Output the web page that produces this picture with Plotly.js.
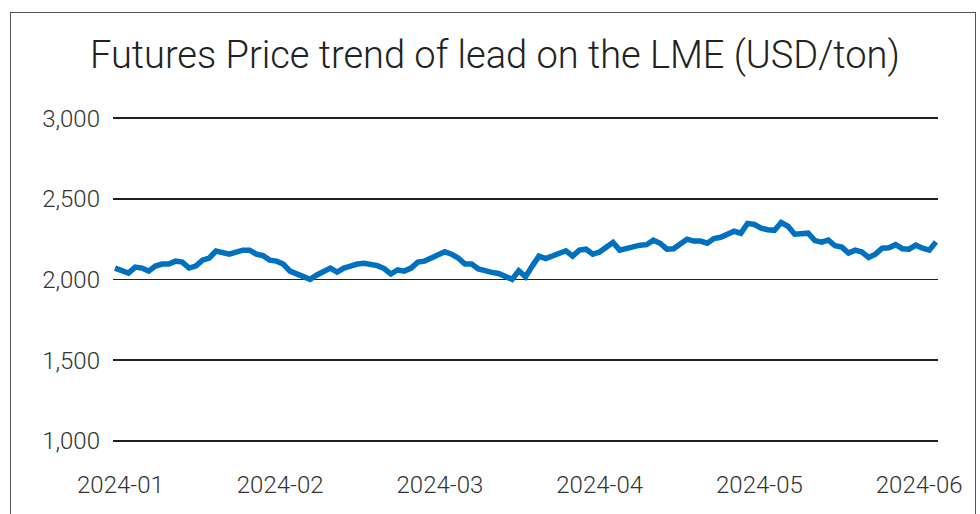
<!DOCTYPE html>
<html>
<head>
<meta charset="utf-8">
<script src="https://cdn.plot.ly/plotly-3.0.1.min.js"></script>
<style>
  html, body { margin: 0; padding: 0; background: #ffffff; }
  #wrap { position: relative; width: 980px; height: 514px; overflow: hidden; }
  #chart { width: 980px; height: 514px; }
  #frame { position: absolute; left: 10px; top: 12px; width: 966px; height: 520px;
           border: 1.5px solid #555555; pointer-events: none; box-sizing: border-box; }
</style>
</head>
<body>
<div id="wrap">
  <div id="chart"></div>
  <div id="frame"></div>
</div>
<script>
// Daily LME lead futures price (USD/ton)
const prices = [
  2071, 2059, 2040, 2077, 2071, 2052, 2083, 2096, 2096, 2114,
  2108, 2071, 2083, 2120, 2133, 2176, 2164, 2157, 2170, 2182,
  2182, 2157, 2148, 2120, 2114, 2096, 2052, 2034, 2022, 2001,
  2028, 2052, 2071, 2046, 2071, 2083, 2096, 2100, 2096, 2086,
  2068, 2034, 2059, 2052, 2071, 2108, 2114, 2131, 2151, 2172,
  2157, 2133, 2096, 2096, 2065, 2052, 2044, 2037, 2022, 2001,
  2054, 2017, 2083, 2145, 2130, 2145, 2164, 2178, 2145, 2182,
  2188, 2157, 2170, 2201, 2230, 2182, 2194, 2207, 2213, 2216,
  2244, 2225, 2188, 2191, 2219, 2250, 2238, 2238, 2225, 2254,
  2262, 2278, 2299, 2287, 2347, 2342, 2318, 2309, 2305, 2353,
  2330, 2281, 2281, 2287, 2241, 2231, 2244, 2209, 2201, 2164,
  2182, 2170, 2136, 2157, 2194, 2197, 2216, 2191, 2188, 2213,
  2194, 2182, 2233
];
// Month tick labels shown under the axis
const monthLabels = ['2024-01', '2024-02', '2024-03', '2024-04', '2024-05', '2024-06'];
// Y axis tick values
const yTicks = [1000, 1500, 2000, 2500, 3000];

const xIdx = prices.map((_, i) => i);
const labelStart = 0.8, labelStep = 23.74;
const labelPos = monthLabels.map((_, i) => labelStart + i * labelStep);

const tickFont = { family: 'Roboto, "Open Sans", sans-serif', size: 24, color: '#333333', weight: 300 };

const trace = {
  x: xIdx,
  y: prices,
  type: 'scatter',
  mode: 'lines',
  line: { color: '#0070C0', width: 5.5, shape: 'linear' },
  hoverinfo: 'y'
};

const layout = {
  width: 980,
  height: 514,
  paper_bgcolor: '#ffffff',
  plot_bgcolor: '#ffffff',
  margin: { l: 113, r: 42, t: 115, b: 70, pad: 0 },
  showlegend: false,
  title: {
    text: 'Futures Price trend of lead on the LME (USD/ton)',
    font: { family: 'Roboto, "Open Sans", sans-serif', size: 38, color: '#222222', weight: 300 },
    xref: 'container', x: 0.505, xanchor: 'center',
    yref: 'container', y: 0.893, yanchor: 'middle'
  },
  xaxis: {
    range: [-0.297, prices.length - 1 + 0.297],
    tickmode: 'array',
    tickvals: labelPos,
    ticktext: monthLabels,
    showgrid: false,
    zeroline: false,
    showline: false,
    ticks: '',
    tickfont: tickFont,
    ticklabelstandoff: 24,
    automargin: false,
    fixedrange: true
  },
  yaxis: {
    range: [980, 3020],
    tickmode: 'array',
    tickvals: yTicks,
    tickformat: ',d',
    showgrid: true,
    gridcolor: '#1f1f1f',
    gridwidth: 1.5,
    zeroline: false,
    showline: false,
    ticks: '',
    tickfont: tickFont,
    ticklabelstandoff: 12,
    automargin: false,
    fixedrange: true
  }
};

Plotly.newPlot('chart', [trace], layout, { displayModeBar: false, staticPlot: true });
</script>
</body>
</html>
